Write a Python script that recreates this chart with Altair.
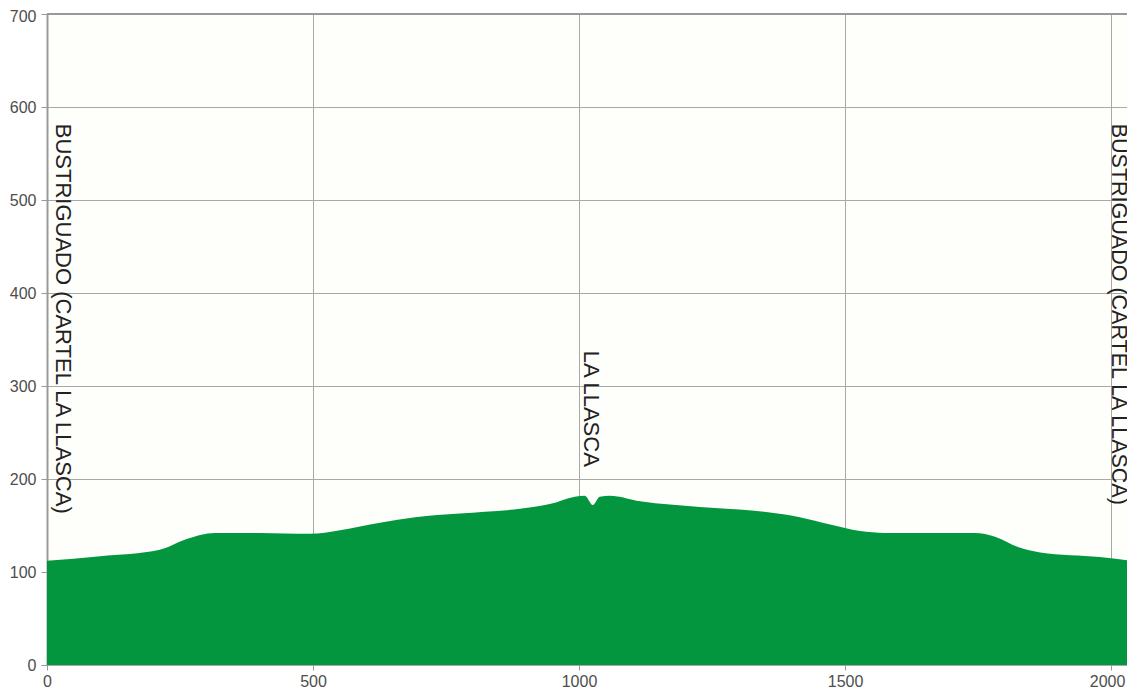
import altair as alt
import pandas as pd

# Elevation profile (distance in m, elevation in m)
dist = [0, 100, 212, 260, 316, 400, 494, 551, 626, 692, 776, 889, 945, 992, 1011,
        1026, 1039, 1058, 1115, 1227, 1359, 1415, 1472, 1528, 1575, 1744, 1782,
        1829, 1867, 1979, 2041]
elev = [112, 117, 124, 135, 142, 142, 141, 145, 153, 159, 163, 168, 173, 181, 182,
        172, 181, 182, 176, 170, 164, 159, 151, 144, 142, 142, 138,
        126, 121, 116, 112]

label_text = ["BUSTRIGUADO (CARTEL LA LLASCA)", "LA LLASCA", "BUSTRIGUADO (CARTEL LA LLASCA)"]
label_x = [0, 1000, 2000]
label_y = [582, 338, 582]

x_ticks = [0, 500, 1000, 1500, 2000]
y_ticks = [0, 100, 200, 300, 400, 500, 600, 700]

df = pd.DataFrame({"dist": dist, "elev": elev})
lab = pd.DataFrame({"x": label_x, "y": label_y, "t": label_text})
top = pd.DataFrame({"v": [700]})

xs = alt.Scale(domain=[0, 2030], nice=False, zero=False)
ys = alt.Scale(domain=[0, 700], nice=False)

axis_common = dict(
    labelFont="Liberation Sans", labelFontSize=16, labelColor="#4d4d4d",
    gridColor="#a8a8a8", gridWidth=1, tickColor="#999999", format="d",
)

area = alt.Chart(df).mark_area(color="#03963f", interpolate="monotone", clip=True).encode(
    x=alt.X("dist:Q", scale=xs, title=None,
            axis=alt.Axis(values=x_ticks, domain=False, tickSize=5, labelPadding=3,
                          labelFlush=False,
                          labelOffset={"condition": {"test": "datum.value == 2000", "value": -4},
                                       "value": 0},
                          **axis_common)),
    y=alt.Y("elev:Q", scale=ys, title=None,
            axis=alt.Axis(values=y_ticks, domainColor="#999999", domainWidth=2,
                          tickSize=6, labelPadding=5, labelFlush=False,
                          labelOffset={"condition": {"test": "datum.value == 700", "value": 2},
                                       "value": 0},
                          **axis_common)),
)

toprule = alt.Chart(top).mark_rule(color="#999999", strokeWidth=2).encode(
    y=alt.Y("v:Q", scale=ys)
)

text_style = dict(angle=90, align="left", baseline="alphabetic",
                  font="Liberation Sans", fontSize=22, color="#222222")


def label_layer(test, dy, size=22):
    style = dict(text_style, fontSize=size)
    return alt.Chart(lab).transform_filter(test).mark_text(dy=dy, **style).encode(
        x=alt.X("x:Q", scale=xs),
        y=alt.Y("y:Q", scale=ys),
        text="t:N",
    )


labels_l = label_layer("datum.x < 500", -9)
labels_m = label_layer("datum.x >= 500 && datum.x < 1500", -5)
labels_r = label_layer("datum.x >= 1500", -1, 21.5)

chart = alt.layer(area, toprule, labels_l, labels_m, labels_r).properties(
    width=1080, height=651,
    autosize="none",
    padding={"left": 39, "top": 6, "right": 0, "bottom": 25},
    background="#ffffff",
).configure_view(fill="#fefefb", stroke="transparent")

chart.save("out.html", embed_options={"renderer": "svg", "actions": False})
